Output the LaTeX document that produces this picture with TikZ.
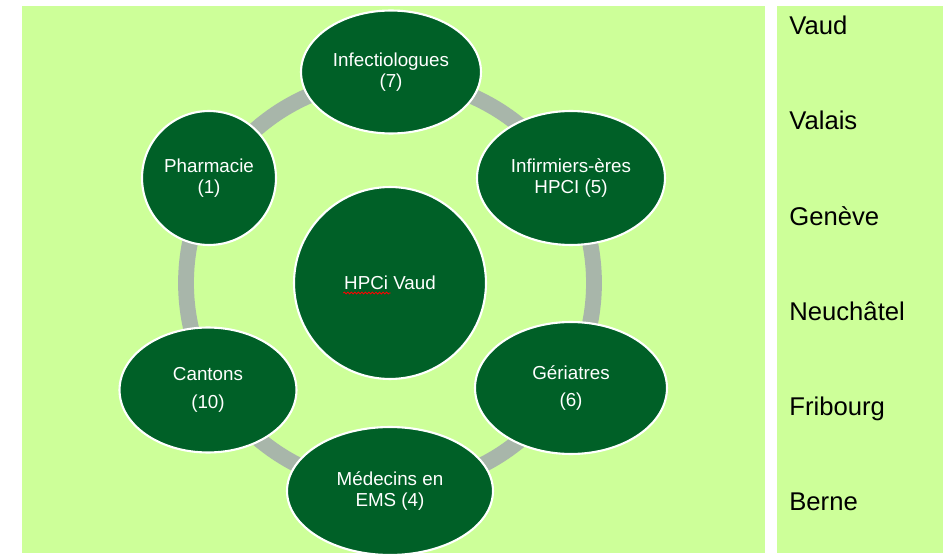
\documentclass[tikz,border=0pt]{standalone}
\usepackage{fontspec}
\setmainfont{Liberation Sans}
\usetikzlibrary{shapes.geometric,backgrounds,decorations.pathmorphing}
\definecolor{panelgreen}{RGB}{205,255,153}
\definecolor{nodegreen}{RGB}{0,96,39}
\definecolor{ringgray}{RGB}{168,182,170}
\tikzset{
    member/.style={
        ellipse,
        draw=white,
        line width=1.2pt,
        fill=nodegreen,
        text=white,
        align=center,
        inner sep=0pt,
        font=\fontsize{10.7}{11.9}\selectfont
    },
    hub/.style={
        member,
        circle,
        minimum size=3.84cm
    },
    ring/.style={
        draw=ringgray,
        line width=9pt
    },
    canton/.style={
        anchor=base west,
        inner sep=0pt,
        font=\fontsize{14.6}{16}\selectfont
    },
    panel/.style={
        fill=panelgreen
    }
}

\begin{document}
\begin{tikzpicture}[x=0.02cm,y=-0.02cm]
\useasboundingbox (0,0) rectangle (951,557);
\node[hub] (hpciv) at (390,283) {HPCi Vaud};
\node[member,minimum width=3.6cm,minimum height=2.46cm] (infect) at (391,72) {Infectiologues\\(7)};
\node[member,minimum width=3.76cm,minimum height=2.68cm] (infirm) at (571,178) {Infirmiers-ères\\HPCI (5)};
\node[member,minimum width=3.84cm,minimum height=2.64cm] (geria) at (571,388) {Gériatres\\[4pt](6)};
\node[member,minimum width=4.12cm,minimum height=2.56cm] (medems) at (390,491) {Médecins en\\EMS (4)};
\node[member,minimum width=3.54cm,minimum height=2.5cm] (cantons) at (208,390) {Cantons\\[4pt](10)};
\node[member,circle,minimum size=2.68cm] (pharma) at (209,178) {Pharmacie\\(1)};
\draw[red,line width=0.5pt,decorate,decoration={snake,amplitude=0.5pt,segment length=2pt}]
  ([xshift=-26.6pt,yshift=-5.7pt]hpciv.center) -- ++(27pt,0);

\node[canton] (vaud) at (789,35) {Vaud};
\node[canton] (valais) at (789,130) {Valais};
\node[canton] (geneve) at (789,226) {Genève};
\node[canton] (neuch) at (789,321) {Neuchâtel};
\node[canton] (fribourg) at (789,416) {Fribourg};
\node[canton] (berne) at (789,511) {Berne};

\begin{scope}[on background layer]
\fill[panel] (22,6) rectangle (765,553);
\fill[panel] (777,6) rectangle (943,553);
\draw[ring] (hpciv.center) circle[radius=204];
\end{scope}
\end{tikzpicture}
\end{document}
